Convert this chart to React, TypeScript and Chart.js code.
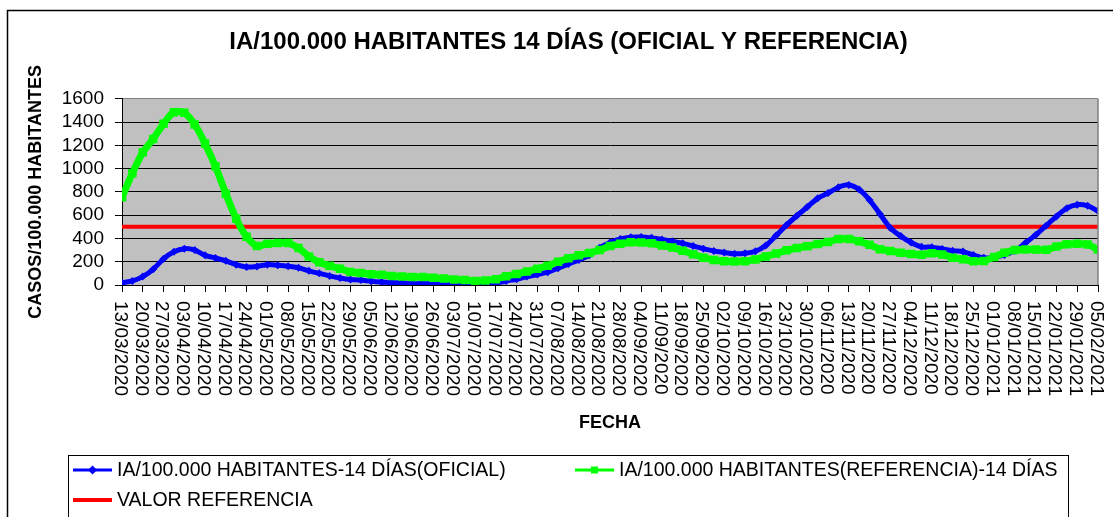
import React, { useEffect, useRef } from 'react';
import { Chart, registerables } from 'chart.js';

Chart.register(...registerables);

const FONT = '"Liberation Sans", Arial, Helvetica, sans-serif';

const TITLE = 'IA/100.000 HABITANTES 14 DÍAS (OFICIAL Y REFERENCIA)';
const Y_TITLE = 'CASOS/100.000 HABITANTES';
const X_TITLE = 'FECHA';

const SERIES_OFICIAL = 'IA/100.000 HABITANTES-14 DÍAS(OFICIAL)';
const SERIES_REFERENCIA = 'IA/100.000 HABITANTES(REFERENCIA)-14 DÍAS';
const SERIES_VALOR = 'VALOR REFERENCIA';

// Weekly date tick labels (one every 7 days, starting 13/03/2020)
const dateLabels = [
  '13/03/2020', '20/03/2020', '27/03/2020', '03/04/2020', '10/04/2020', '17/04/2020',
  '24/04/2020', '01/05/2020', '08/05/2020', '15/05/2020', '22/05/2020', '29/05/2020',
  '05/06/2020', '12/06/2020', '19/06/2020', '26/06/2020', '03/07/2020', '10/07/2020',
  '17/07/2020', '24/07/2020', '31/07/2020', '07/08/2020', '14/08/2020', '21/08/2020',
  '28/08/2020', '04/09/2020', '11/09/2020', '18/09/2020', '25/09/2020', '02/10/2020',
  '09/10/2020', '16/10/2020', '23/10/2020', '30/10/2020', '06/11/2020', '13/11/2020',
  '20/11/2020', '27/11/2020', '04/12/2020', '11/12/2020', '18/12/2020', '25/12/2020',
  '01/01/2021', '08/01/2021', '15/01/2021', '22/01/2021', '29/01/2021', '05/02/2021',
];
const DAYS_PER_LABEL = 7;
const LAST_DAY = 329;
// Values are sampled every 3.5 days (twice a week)
const SAMPLE_STEP_DAYS = 3.5;

// IA/100.000 habitantes - 14 días (oficial)
const oficial = [
  20, 35, 72, 135, 225, 285, 312, 300, 255, 232,
  208, 175, 155, 160, 175, 170, 162, 148, 122, 100,
  78, 60, 47, 42, 32, 25, 20, 17, 12, 12,
  10, 8, 5, 3, 2, 3, 15, 35, 50, 72,
  90, 110, 145, 180, 215, 255, 320, 365, 395, 410,
  412, 405, 392, 375, 358, 335, 312, 292, 280, 268,
  272, 290, 340, 425, 515, 595, 670, 745, 790, 840,
  860, 820, 730, 610, 490, 420, 365, 328, 325, 310,
  295, 287, 258, 235, 235, 258, 295, 360, 430, 510,
  589, 660, 690, 680, 635,
];

// IA/100.000 habitantes (referencia) - 14 días
const referencia = [
  755, 960, 1140, 1255, 1385, 1485, 1480, 1380, 1215, 1020,
  785, 570, 415, 335, 355, 360, 360, 318, 245, 195,
  165, 140, 112, 103, 92, 88, 78, 74, 68, 68,
  62, 55, 48, 42, 35, 38, 50, 75, 95, 115,
  140, 165, 200, 230, 255, 275, 300, 335, 355, 368,
  365, 358, 340, 322, 295, 265, 235, 215, 205, 201,
  205, 220, 245, 270, 298, 318, 333, 352, 370, 395,
  395, 375, 345, 308, 292, 278, 267, 260, 272, 262,
  235, 221, 205, 207, 240, 278, 300, 305, 305, 302,
  330, 350, 355, 348, 305,
];

const valorReferencia = 500;

const Y_MIN = 0;
const Y_MAX = 1600;
const Y_STEP = 200;

const COLOR_OFICIAL = '#0000FF';
const COLOR_REFERENCIA = '#00FF00';
const COLOR_VALOR = '#FF0000';

function drawMarker(ctx: CanvasRenderingContext2D, style: string, x: number, y: number, r: number, color: string) {
  ctx.save();
  ctx.fillStyle = color;
  ctx.beginPath();
  if (style === 'diamond') {
    ctx.moveTo(x - r, y);
    ctx.lineTo(x, y - r);
    ctx.lineTo(x + r, y);
    ctx.lineTo(x, y + r);
    ctx.closePath();
    ctx.fill();
  } else if (style === 'square') {
    ctx.rect(x - r, y - r, 2 * r, 2 * r);
    ctx.fill();
  }
  ctx.restore();
}

const decorPlugin = {
  id: 'decor',
  beforeDraw(chart: any) {
    const { ctx, chartArea: a, width, height } = chart;
    ctx.save();
    ctx.fillStyle = '#FFFFFF';
    ctx.fillRect(0, 0, width, height);
    ctx.strokeStyle = '#000000';
    ctx.lineWidth = 1.5;
    ctx.strokeRect(7.5, 10.5, width + 40, height + 40);
    ctx.fillStyle = '#C0C0C0';
    ctx.fillRect(a.left, a.top, a.right - a.left, a.bottom - a.top);
    ctx.restore();
  },
  afterDraw(chart: any) {
    const { ctx, chartArea: a } = chart;
    ctx.save();
    // plot area right border
    ctx.strokeStyle = '#808080';
    ctx.lineWidth = 1.5;
    ctx.beginPath();
    ctx.moveTo(a.right, a.top);
    ctx.lineTo(a.right, a.bottom);
    ctx.stroke();

    // x tick labels, rotated clockwise (read top to bottom)
    const xs = chart.scales.x;
    ctx.fillStyle = '#000000';
    ctx.font = `19px ${FONT}`;
    ctx.textAlign = 'left';
    ctx.textBaseline = 'middle';
    xs.ticks.forEach((t: any) => {
      const idx = Math.round(t.value / DAYS_PER_LABEL);
      const label = dateLabels[idx];
      if (!label) return;
      const px = xs.getPixelForValue(t.value);
      ctx.save();
      ctx.translate(px - 2, a.bottom + 16);
      ctx.rotate(Math.PI / 2);
      ctx.fillText(label, 0, 0);
      ctx.restore();
    });

    // legend
    const ds = chart.data.datasets;
    ctx.strokeStyle = '#000000';
    ctx.lineWidth = 1;
    ctx.strokeRect(68.5, 455.5, 1000, 200);
    const items = [
      { i: 0, x: 73, y: 470, lw: 3, marker: 'diamond', mr: 4.5 },
      { i: 1, x: 575, y: 470, lw: 3, marker: 'square', mr: 3.5 },
      { i: 2, x: 73, y: 500, lw: 4, marker: '', mr: 0 },
    ];
    ctx.font = `19.5px ${FONT}`;
    ctx.textAlign = 'left';
    ctx.textBaseline = 'middle';
    items.forEach((it) => {
      const d = ds[it.i];
      ctx.strokeStyle = d.borderColor;
      ctx.lineWidth = it.lw;
      ctx.beginPath();
      ctx.moveTo(it.x, it.y);
      ctx.lineTo(it.x + 39, it.y);
      ctx.stroke();
      if (it.marker) drawMarker(ctx, it.marker, it.x + 19.5, it.y, it.mr, d.borderColor);
      ctx.fillStyle = '#000000';
      ctx.fillText(d.label, it.x + 44, it.y + 1);
    });
    ctx.restore();
  },
};

export default function App() {
  const canvasRef = useRef<HTMLCanvasElement | null>(null);

  useEffect(() => {
    document.body.style.margin = '0';
    const canvas = canvasRef.current;
    if (!canvas) return;

    const toPoints = (arr: number[]) => arr.map((v, i) => ({ x: i * SAMPLE_STEP_DAYS, y: v }));

    const chart = new Chart(canvas, {
      type: 'line',
      data: {
        datasets: [
          {
            label: SERIES_OFICIAL,
            data: toPoints(oficial),
            borderColor: COLOR_OFICIAL,
            backgroundColor: COLOR_OFICIAL,
            borderWidth: 5,
            pointStyle: 'rectRot',
            pointRadius: 4,
            pointBorderWidth: 0,
            tension: 0.3,
            order: 1,
            xAxisID: 'x',
            yAxisID: 'y',
          },
          {
            label: SERIES_REFERENCIA,
            data: toPoints(referencia),
            borderColor: COLOR_REFERENCIA,
            backgroundColor: COLOR_REFERENCIA,
            borderWidth: 7,
            pointStyle: 'rect',
            pointRadius: 6,
            pointBorderWidth: 0,
            tension: 0.3,
            order: 0,
            xAxisID: 'x',
            yAxisID: 'y',
          },
          {
            label: SERIES_VALOR,
            data: [
              { x: 0, y: valorReferencia },
              { x: LAST_DAY, y: valorReferencia },
            ],
            borderColor: COLOR_VALOR,
            backgroundColor: COLOR_VALOR,
            borderWidth: 4,
            pointRadius: 0,
            order: 2,
            xAxisID: 'x',
            yAxisID: 'y',
          },
        ],
      },
      options: {
        responsive: false,
        animation: false,
        devicePixelRatio: 1,
        events: [],
        layout: { padding: { top: 0, left: 0, right: -24, bottom: 80 } },
        plugins: {
          legend: { display: false },
          tooltip: { enabled: false },
          title: {
            display: true,
            text: TITLE,
            color: '#000000',
            font: { family: FONT, size: 24, weight: 'bold' },
            padding: { top: 28, bottom: 42 },
          },
        },
        scales: {
          x: {
            type: 'linear',
            position: 'bottom',
            min: 0,
            max: LAST_DAY,
            ticks: { display: false, stepSize: DAYS_PER_LABEL },
            grid: { drawOnChartArea: false, drawTicks: true, tickLength: 7, color: '#000000' },
            border: { display: true, color: '#000000', width: 1 },
            title: {
              display: true,
              text: X_TITLE,
              color: '#000000',
              font: { family: FONT, size: 18, weight: 'bold' },
              padding: { top: 0, bottom: 3 },
            },
            afterFit: (s: any) => {
              s.height = 152;
            },
          },
          y: {
            type: 'linear',
            position: 'left',
            min: Y_MIN,
            max: Y_MAX,
            ticks: {
              stepSize: Y_STEP,
              autoSkip: false,
              color: '#000000',
              font: { family: FONT, size: 19 },
              padding: 11,
              callback: (v: any) => String(v),
            },
            grid: {
              color: (c: any) => (c.tick && c.tick.value === Y_MAX ? '#808080' : '#000000'),
              tickColor: '#000000',
              lineWidth: 1,
              tickLength: 7,
            },
            border: { display: true, color: '#000000', width: 1 },
            title: {
              display: true,
              text: Y_TITLE,
              color: '#000000',
              font: { family: FONT, size: 18, weight: 'bold' },
              padding: { top: 25, bottom: 0 },
            },
            afterFit: (s: any) => {
              s.width = 122;
            },
          },
          y2: {
            type: 'linear',
            position: 'right',
            display: true,
            grid: { display: false, drawTicks: false },
            border: { display: false },
            ticks: { display: false },
            afterFit: (s: any) => {
              s.width = 39;
            },
          },
        },
      } as any,
      plugins: [decorPlugin],
    });

    return () => {
      chart.destroy();
    };
  }, []);

  return (
    <div style={{ width: 1113, height: 517, position: 'relative', overflow: 'hidden' }}>
      <canvas ref={canvasRef} width={1113} height={517} style={{ display: 'block' }} />
    </div>
  );
}
